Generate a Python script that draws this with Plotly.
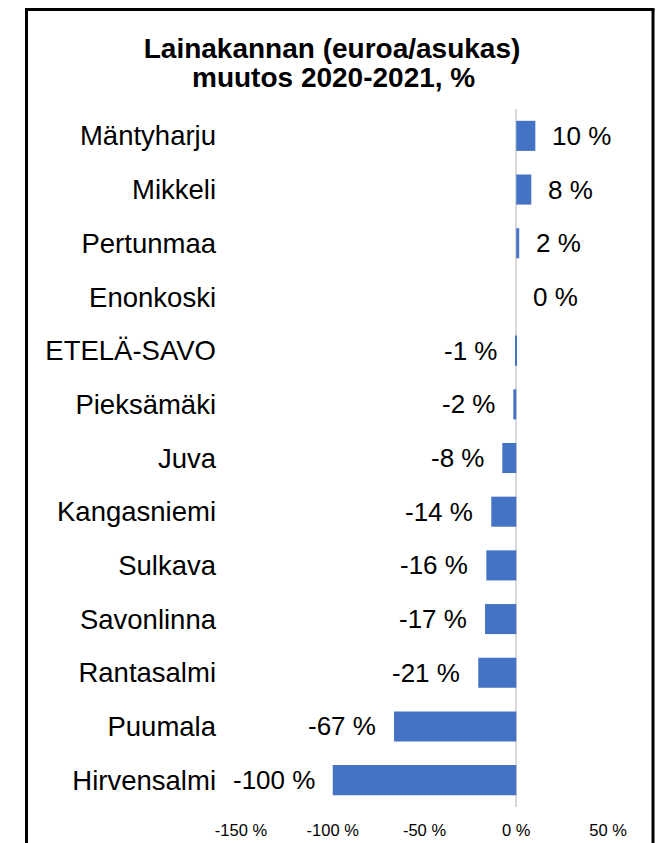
import plotly.graph_objects as go

categories = ["Mäntyharju", "Mikkeli", "Pertunmaa", "Enonkoski", "ETELÄ-SAVO",
              "Pieksämäki", "Juva", "Kangasniemi", "Sulkava", "Savonlinna",
              "Rantasalmi", "Puumala", "Hirvensalmi"]
values = [10.4, 8.2, 1.6, 0.0, -0.6, -1.6, -7.6, -13.6, -16.3, -17.0, -20.7, -66.6, -100.0]
labels = ["10 %", "8 %", "2 %", "0 %", "-1 %", "-2 %", "-8 %", "-14 %", "-16 %",
          "-17 %", "-21 %", "-67 %", "-100 %"]
tick_vals = [-150, -100, -50, 0, 50]
tick_text = ["-150 %", "-100 %", "-50 %", "0 %", "50 %"]
title_line1 = "Lainakannan (euroa/asukas)"
title_line2 = "muutos 2020-2021, %"

# page body has an 8px margin, so figure coordinates = screen - 8
OFF = 8
W, H = 664 - OFF, 843 - OFF
ML, MR, MT, MB = 241 - OFF, 56, 109 - OFF, 36
pw, ph = W - ML - MR, H - MT - MB

def px_x(sx):
    return (sx - OFF - ML) / pw

def px_y(sy):
    return (H - MB - (sy - OFF)) / ph

FONT = "Liberation Sans, Arial, sans-serif"
TOP = 9.5  # border top (cannot go above the page margin)

fig = go.Figure()
fig.add_trace(go.Bar(
    x=values, y=categories, orientation="h",
    marker=dict(color="#4472C4", line=dict(width=0)),
    hoverinfo="x+y",
))

annotations = []
for v, c, t in zip(values, categories, labels):
    pos = v >= 0
    annotations.append(dict(
        x=v, y=c, xref="x", yref="y", text=t, showarrow=False,
        xanchor="left" if pos else "right", xshift=15 if pos else -16,
        font=dict(family=FONT, size=26, color="#000000"),
    ))
annotations.append(dict(
    x=px_x(333), y=px_y(78), xref="paper", yref="paper",
    text=title_line2, showarrow=False, xanchor="center", yanchor="middle",
    font=dict(family=FONT, size=28, color="#000000", weight="bold"),
))

fig.update_layout(
    width=W, height=H,
    margin=dict(l=ML, r=MR, t=MT, b=MB, autoexpand=False),
    paper_bgcolor="white", plot_bgcolor="white",
    showlegend=False,
    bargap=0.44,
    title=dict(text=title_line1, x=(332 - OFF) / W, xref="container", xanchor="center",
               y=1 - (48 - OFF) / H, yref="container", yanchor="middle",
               font=dict(family=FONT, size=28, color="#000000", weight="bold")),
    annotations=annotations,
    font=dict(family=FONT, color="#000000"),
    xaxis=dict(range=[-150, 50], tickvals=tick_vals, ticktext=tick_text,
               showgrid=False, zeroline=True, zerolinecolor="#d9d9d9", zerolinewidth=2,
               showline=False, ticks="", ticklabelstandoff=11, automargin=False,
               tickfont=dict(family=FONT, size=16.5, color="#000000"), fixedrange=True),
    yaxis=dict(autorange="reversed", showgrid=False, showline=False, ticks="",
               ticklabelstandoff=24, automargin=False,
               tickfont=dict(family=FONT, size=27.5, color="#000000"), fixedrange=True),
    shapes=[
        dict(type="line", xref="paper", yref="paper", x0=px_x(26.5), x1=px_x(26.5),
             y0=px_y(TOP), y1=px_y(860), line=dict(color="black", width=3)),
        dict(type="line", xref="paper", yref="paper", x0=px_x(653), x1=px_x(653),
             y0=px_y(TOP), y1=px_y(860), line=dict(color="black", width=3)),
        dict(type="line", xref="paper", yref="paper", x0=px_x(25), x1=px_x(654.5),
             y0=px_y(TOP), y1=px_y(TOP), line=dict(color="black", width=3)),
    ],
)
fig.write_html("out.html", config={"displayModeBar": False})
